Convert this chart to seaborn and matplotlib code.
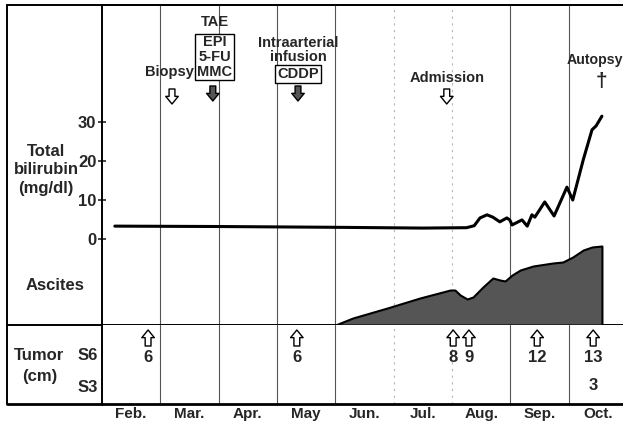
import numpy as np
import matplotlib
matplotlib.use("Agg")
import matplotlib.pyplot as plt
import seaborn as sns
from matplotlib.lines import Line2D

sns.set_style("white")
plt.rcParams["font.family"] = ["Liberation Sans", "DejaVu Sans"]
plt.rcParams["font.weight"] = "bold"

# datos (x en meses desde el 1 de febrero)
months = ["Feb.", "Mar.", "Apr.", "May", "Jun.", "Jul.", "Aug.", "Sep.", "Oct."]
bili_x = [0.22, 2.0, 4.0, 5.5, 6.25, 6.38, 6.48, 6.60, 6.70, 6.82, 6.94, 6.99, 7.03,
          7.20, 7.29, 7.37, 7.42, 7.59, 7.75, 7.97, 8.07, 8.25, 8.40, 8.47, 8.57]
bili_y = [3.3, 3.2, 3.0, 2.8, 2.9, 3.4, 5.4, 6.2, 5.6, 4.4, 5.4, 4.9, 3.6,
          4.9, 3.3, 6.2, 5.6, 9.5, 5.9, 13.3, 10.0, 20.3, 28.0, 29.0, 31.5]
asc_x = [4.0, 4.30, 4.89, 5.45, 5.97, 6.05, 6.14, 6.26, 6.36, 6.53, 6.70, 6.82,
         6.91, 7.03, 7.17, 7.39, 7.73, 7.90, 8.07, 8.25, 8.40, 8.57]
asc_y = [0, 7, 17, 27, 35, 35, 30, 26, 28, 38, 47, 45,
         44, 50, 55, 59, 62, 63, 68, 75, 78, 79]
tumor_x = [0.79, 3.34, 6.02, 6.29, 7.46, 8.42]
tumor_s6 = ["6", "6", "8", "9", "12", "13"]
tumor_s3 = ["", "", "", "", "", "3"]
biopsy_x, tae_x, infusion_x, admission_x, autopsy_x = 1.20, 1.90, 3.36, 5.91, 8.57

W, H = 623, 429
def fx(px):
    return px / W
def fy(py):
    return 1 - py / H
def b(py):  # pixel -> bilirubin units
    return (239 - py) / 3.9
def t(py):  # pixel -> tumor panel units
    return 1 + (357 - py) / 29.0

fig = plt.figure(figsize=(W / 100, H / 100), dpi=100)
wid = fx(627) - fx(102)
ax_b = fig.add_axes([fx(102), fy(325), wid, fy(5) - fy(325)])
ax_a = fig.add_axes([fx(102), fy(325), wid, fy(239) - fy(325)])
ax_t = fig.add_axes([fx(102), fy(404), wid, fy(325) - fy(404)])

for ax in (ax_b, ax_a, ax_t):
    ax.set_xlim(0, 9)
ax_b.set_ylim(b(325), b(5))
ax_a.set_ylim(0, 86)
ax_t.set_ylim(t(404), t(325))

# lineas de meses
for ax in (ax_b, ax_t):
    for m in range(1, 9):
        if m in (5, 6):
            ax.axvline(m, color="#b5b5b5", lw=0.8, ls=(0, (2, 4)), zorder=0)
        else:
            ax.axvline(m, color="#555555", lw=0.8, zorder=0)

# bilirrubina
sns.lineplot(x=bili_x, y=bili_y, ax=ax_b, color="black", lw=2.2, sort=False)
ax_b.set_yticks([0, 10, 20, 30])
ax_b.set_xticks([])
ax_b.tick_params(axis="y", direction="inout", length=6, width=1.2, pad=1, labelsize=12, left=True)
ax_b.spines["right"].set_visible(False)
for sp in ("left", "top", "bottom"):
    ax_b.spines[sp].set_linewidth(1.4)
    ax_b.spines[sp].set_color("black")
ax_b.set_ylabel("")

# ascitis
ax_a.patch.set_visible(False)
for sp in ax_a.spines.values():
    sp.set_visible(False)
ax_a.set_xticks([])
ax_a.set_yticks([])
ax_a.fill_between(asc_x, 0, asc_y, facecolor="#555555", edgecolor="black", lw=1.5)
ax_a.set_ylabel("")

# tumor
ax_t.set_yticks([])
ax_t.set_xticks(np.arange(9) + 0.5)
ax_t.set_xticklabels(months)
ax_t.tick_params(axis="x", length=0, pad=2, labelsize=11)
ax_t.spines["right"].set_visible(False)
ax_t.spines["top"].set_visible(False)
ax_t.spines["left"].set_linewidth(1.4)
ax_t.spines["bottom"].set_linewidth(2.0)
for sp in ("left", "bottom"):
    ax_t.spines[sp].set_color("black")

def block_arrow(ax, x, y_tail, y_tip, fc):
    ax.annotate("", xy=(x, y_tip), xytext=(x, y_tail),
                arrowprops=dict(arrowstyle="simple,head_length=0.55,head_width=0.9,tail_width=0.42",
                                fc=fc, ec="black", lw=1, shrinkA=0, shrinkB=0,
                                mutation_scale=10))

for x, s6, s3 in zip(tumor_x, tumor_s6, tumor_s3):
    block_arrow(ax_t, x, t(346), t(330), "white")
    ax_t.text(x, 1, s6, ha="center", va="center", fontsize=12)
    if s3:
        ax_t.text(x, 0, s3, ha="center", va="center", fontsize=12)

# eventos
fs = 10.5
ax_b.text(biopsy_x - 0.05, b(72), "Biopsy", ha="center", va="center", fontsize=fs)
block_arrow(ax_b, biopsy_x, b(89), b(104), "white")
ax_b.text(tae_x + 0.03, b(22), "TAE", ha="center", va="center", fontsize=fs)
ax_b.text(tae_x + 0.03, b(57), "EPI\n5-FU\nMMC", ha="center", va="center", fontsize=fs,
          linespacing=1.05, bbox=dict(boxstyle="square,pad=0.12", fc="white", ec="black", lw=1))
block_arrow(ax_b, tae_x, b(86), b(101), "#555555")
ax_b.text(infusion_x, b(50), "Intraarterial\ninfusion", ha="center", va="center", fontsize=fs,
          linespacing=0.95)
ax_b.text(infusion_x, b(74), "CDDP", ha="center", va="center", fontsize=fs,
          bbox=dict(boxstyle="square,pad=0.12", fc="white", ec="black", lw=1))
block_arrow(ax_b, infusion_x, b(86), b(101), "#555555")
ax_b.text(admission_x, b(78), "Admission", ha="center", va="center", fontsize=fs)
block_arrow(ax_b, admission_x, b(89), b(104), "white")
ax_b.text(autopsy_x - 0.61, b(60), "Autopsy", ha="left", va="center", fontsize=10.2)
ax_b.text(autopsy_x, b(81), "\u2020", ha="center", va="center", fontsize=15)

# etiquetas a la izquierda
fig.text(fx(46), fy(170), "Total\nbilirubin\n(mg/dl)", ha="center", va="center", fontsize=12,
         linespacing=1.3)
fig.text(fx(55), fy(286), "Ascites", ha="center", va="center", fontsize=12)
fig.text(fx(39), fy(356), "Tumor", ha="center", va="center", fontsize=12)
fig.text(fx(40), fy(377), "(cm)", ha="center", va="center", fontsize=12)
fig.text(fx(88), fy(356), "S6", ha="center", va="center", fontsize=12)
fig.text(fx(88), fy(387), "S3", ha="center", va="center", fontsize=12)

# marco exterior
fig.add_artist(Line2D([fx(7), fx(7)], [fy(5), fy(404)], color="black", lw=1.4))
fig.add_artist(Line2D([fx(7), 1], [fy(5), fy(5)], color="black", lw=1.4))
fig.add_artist(Line2D([fx(7), fx(102)], [fy(325), fy(325)], color="black", lw=1.4))
fig.add_artist(Line2D([fx(7), fx(102)], [fy(404), fy(404)], color="black", lw=2.0))

fig.savefig("out.png", dpi=100)
